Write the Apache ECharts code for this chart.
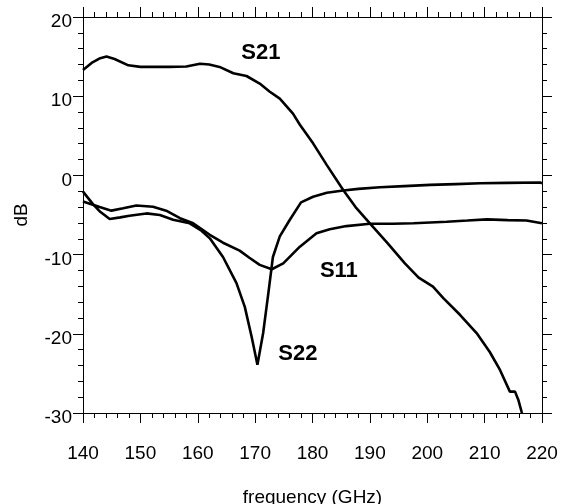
<!DOCTYPE html>
<html>
<head>
<meta charset="utf-8">
<script src="https://cdn.jsdelivr.net/npm/echarts@6/dist/echarts.min.js"></script>
<style>
  html, body { margin: 0; padding: 0; background: #fff; }
  #chart { width: 564px; height: 504px; }
</style>
</head>
<body>
<div id="chart"></div>
<script>
// S21 (transmission)
const s21Freq = [140, 141.5, 143, 144.1, 145.5, 147.9, 150, 155, 158, 160.4, 162, 163.8, 166.2, 168.5, 170.8, 172.5, 174.3, 176.6, 177.8, 180.1, 182.5, 185.35, 187.5, 190, 193, 196.1, 198.5, 201, 202.8, 205.7, 208.6, 210.9, 212.7, 214.4, 215.3, 215.9, 216.5];
const s21Db = [13.3, 14.2, 14.8, 15.0, 14.7, 13.9, 13.7, 13.7, 13.75, 14.1, 14.0, 13.7, 12.9, 12.55, 11.6, 10.6, 9.7, 7.8, 6.4, 4.05, 1.3, -1.84, -4.0, -6.05, -8.5, -11.1, -12.9, -14.05, -15.5, -17.6, -19.9, -22.3, -24.6, -27.3, -27.3, -28.4, -30];

// S22 (sharp dip at 170 GHz)
const s22Freq = [140, 141.7, 143, 144.65, 146.5, 148.1, 151.05, 153.4, 155.7, 158.6, 160.5, 162.1, 164.4, 166.75, 168.2, 169.4, 170.4, 171.4, 172.3, 173.1, 174.3, 176.05, 178, 180.1, 182.5, 185.35, 188, 191.75, 196, 200.5, 205, 209.2, 214, 219.7, 220];
const s22Db = [-2.05, -3.6, -4.6, -5.5, -5.3, -5.1, -4.8, -5.0, -5.6, -6.05, -6.9, -7.95, -10.3, -13.6, -16.6, -20.4, -23.9, -19.9, -14.9, -10.3, -7.7, -5.6, -3.4, -2.7, -2.2, -1.9, -1.7, -1.5, -1.35, -1.2, -1.1, -1.0, -0.95, -0.9, -1.0];

// S11
const s11Freq = [140, 142.9, 144.95, 147, 149.3, 152.2, 154.5, 156.9, 159.2, 162.1, 164.4, 167.3, 169, 170.8, 172.9, 174.9, 177.8, 180.7, 183, 185.9, 190, 194, 197.6, 203.4, 207, 210.4, 214, 217.3, 220];
const s11Db = [-3.3, -4.0, -4.45, -4.15, -3.8, -3.95, -4.45, -5.4, -6.05, -7.5, -8.5, -9.5, -10.4, -11.3, -11.85, -11.1, -9.0, -7.3, -6.8, -6.4, -6.1, -6.1, -6.05, -5.85, -5.7, -5.55, -5.65, -5.7, -6.05];

const xTicks = [140, 150, 160, 170, 180, 190, 200, 210, 220];
const yTicks = [-30, -20, -10, 0, 10, 20];

// curve name labels, in data units [GHz, dB]
const labelNames = ['S21', 'S11', 'S22'];
const labelCoords = [[171, 15.45], [184.6, -12.1], [177.45, -22.5]];

const font = 'Liberation Sans, Arial, sans-serif';

function pairs(xs, ys) {
  return xs.map((x, i) => [x, ys[i]]);
}

function tagPoint(i) {
  return {
    coord: labelCoords[i],
    symbol: 'circle',
    symbolSize: 1,
    itemStyle: { color: 'rgba(0,0,0,0)' },
    label: {
      show: true,
      formatter: labelNames[i],
      position: 'inside',
      color: '#000',
      fontFamily: font,
      fontWeight: 'bold',
      fontSize: 22
    }
  };
}

function frameAxis(pos, isX) {
  return {
    type: 'value',
    position: pos,
    min: isX ? xTicks[0] : yTicks[0],
    max: isX ? xTicks[xTicks.length - 1] : yTicks[yTicks.length - 1],
    interval: 10,
    axisLine: { show: true, onZero: false, lineStyle: { color: '#000', width: 1 } },
    axisTick: { show: true, inside: false, length: 10, lineStyle: { color: '#000' } },
    minorTick: { show: true, splitNumber: 5, length: 5, lineStyle: { color: '#000' } },
    axisLabel: { show: false },
    splitLine: { show: false },
    minorSplitLine: { show: false }
  };
}

const chart = echarts.init(document.getElementById('chart'), null, { renderer: 'canvas' });

const xBottom = frameAxis('bottom', true);
xBottom.axisLabel = { show: true, fontSize: 19, fontFamily: font, color: '#000', margin: 31 };
xBottom.name = 'frequency (GHz)';
xBottom.nameLocation = 'middle';
xBottom.nameGap = 75;
xBottom.nameTextStyle = { fontSize: 19, fontFamily: font, color: '#000' };

const yLeft = frameAxis('left', false);
// tick values sit a few px below their ticks in the original
yLeft.axisLabel = {
  show: true, margin: 11,
  formatter: '{v|{value}}',
  rich: { v: { fontSize: 19, fontFamily: font, color: '#000', padding: [10, 0, 0, 0] } }
};
yLeft.name = 'dB';
yLeft.nameLocation = 'middle';
yLeft.nameRotate = 90;
yLeft.nameGap = 52;
yLeft.nameTextStyle = { fontSize: 19, fontFamily: font, color: '#000' };

chart.setOption({
  animation: false,
  backgroundColor: '#fff',
  grid: { left: 83, right: 22, top: 17, bottom: 91, containLabel: false, outerBoundsMode: 'none' },
  xAxis: [xBottom, frameAxis('top', true)],
  yAxis: [yLeft, frameAxis('right', false)],
  series: [
    {
      name: 'S21', type: 'line', showSymbol: false, smooth: false,
      data: pairs(s21Freq, s21Db),
      lineStyle: { color: '#000', width: 2.6 },
      markPoint: { data: [tagPoint(0)] }
    },
    {
      name: 'S11', type: 'line', showSymbol: false,
      data: pairs(s11Freq, s11Db),
      lineStyle: { color: '#000', width: 2.6 },
      markPoint: { data: [tagPoint(1)] }
    },
    {
      name: 'S22', type: 'line', showSymbol: false,
      data: pairs(s22Freq, s22Db),
      lineStyle: { color: '#000', width: 2.6 },
      markPoint: { data: [tagPoint(2)] }
    }
  ]
});
</script>
</body>
</html>
